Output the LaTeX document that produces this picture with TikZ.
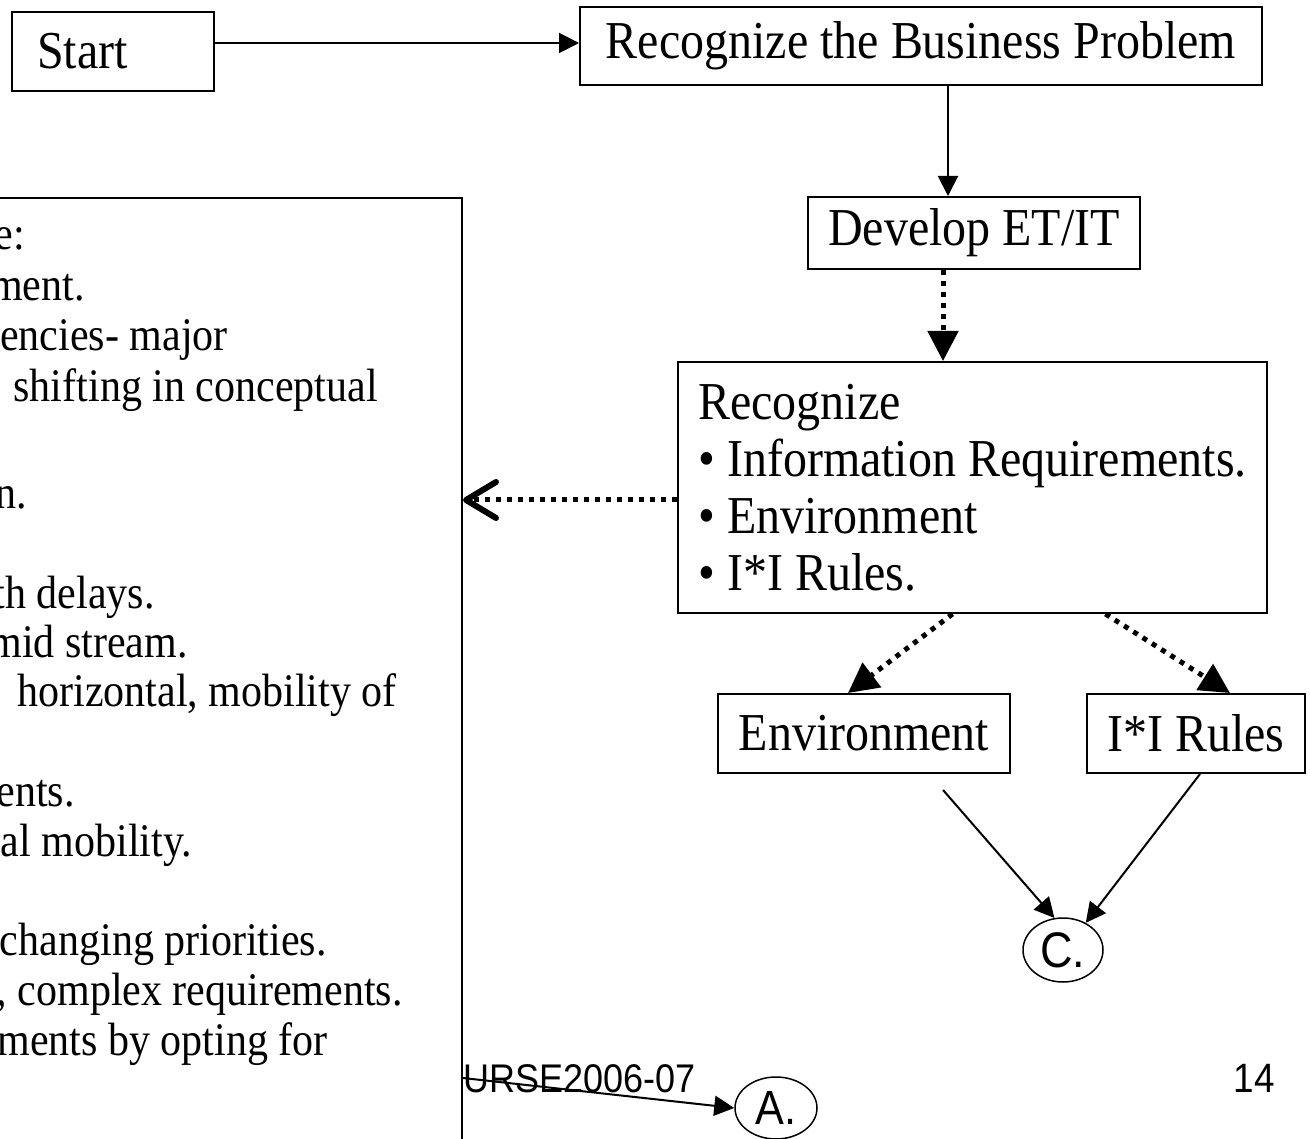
\documentclass[tikz,border=0pt]{standalone}
\usepackage{fontspec}
\setmainfont[FakeStretch=0.9]{Liberation Serif}
\newfontfamily\arialf[FakeStretch=0.9]{Liberation Sans}
\usetikzlibrary{arrows.meta,shapes.geometric,calc}
\begin{document}
\begin{tikzpicture}[x=1pt,y=-1pt,
 box/.style={draw, line width=2pt, inner sep=0pt, font=\fontsize{53.3}{57}\selectfont},
 solidarr/.style={line width=2pt, -{Triangle[length=20pt,width=20pt]}},
 dotarr/.style={line width=5pt, dash pattern=on 5pt off 6pt, -{Triangle[length=30pt,width=30pt]}},
 lefttxt/.style={anchor=base east, inner sep=0pt, font=\fontsize{46.7}{50}\selectfont},
 oval/.style={draw, ellipse, line width=1.5pt, inner sep=0pt, font=\arialf\fontsize{50}{54}\selectfont}]
\useasboundingbox (0,0) rectangle (1310,1139);
\clip (0,0) rectangle (1310,1139);
\fill[white] (0,0) rectangle (1310,1139);

% left (cut-off) box
\node[draw, line width=2pt, minimum width=600pt, minimum height=1100pt, anchor=north east, inner sep=0pt] (lbox) at (463,197) {};
\node[lefttxt] (l1) at (25,250) {e:};
\node[lefttxt] (l2) at (85,301) {ment.};
\node[lefttxt] (l3) at (228,351) {encies- major};
\node[lefttxt] (l4) at (378,402) {shifting in conceptual};
\node[lefttxt] (l5) at (27,508) {n.};
\node[lefttxt] (l6) at (155,608) {th delays.};
\node[lefttxt] (l7) at (188,657) {mid stream.};
\node[lefttxt] (l8) at (397,706) {horizontal, mobility of};
\node[lefttxt] (l9) at (75,806) {ents.};
\node[lefttxt] (l10) at (192,856) {al mobility.};
\node[lefttxt] (l11) at (327,955) {changing priorities.};
\node[lefttxt] (l12) at (403,1005) {, complex requirements.};
\node[lefttxt] (l13) at (328,1055) {ments by opting for};

% right flow
\node[box, minimum width=202pt, minimum height=79pt, text width=152pt, inner xsep=25pt, align=left] (start) at (113,51.5) {Start};
\node[box, minimum width=682pt, minimum height=78pt] (rbp) at (921,46) {Recognize the Business Problem};
\node[box, minimum width=332pt, minimum height=72pt] (dev) at (974,233) {Develop ET/IT};
\node[box, minimum width=589pt, minimum height=251pt, align=left] (rec) at (972.5,487.5)
 {Recognize\\ \textbullet\ Information Requirements.\\ \textbullet\ Environment\\ \textbullet\ I*I Rules.};
\node[box, minimum width=292pt, minimum height=79pt] (env) at (864,733.5) {Environment};
\node[box, minimum width=218pt, minimum height=79pt] (iri) at (1196,733.5) {I*I Rules};
\node[oval, minimum width=80pt, minimum height=64pt] (c) at (1063,950) {C.};
\node[oval, minimum width=82pt, minimum height=62pt, font=\arialf\fontsize{48}{52}\selectfont] (a) at (776,1108) {A.};

\node[anchor=base west, inner sep=0pt, font=\arialf\fontsize{40}{44}\selectfont] (urse) at (463,1092) {URSE2006-07};
\node[anchor=base east, inner sep=0pt, font=\arialf\fontsize{41}{44}\selectfont] (pg) at (1275,1092) {14};

% connectors
\path ([yshift=3pt]rbp.west) coordinate (rw);
\draw[solidarr] (rw -| start.east) -- (rw);
\coordinate (v1) at (948,0);
\draw[solidarr] (v1 |- rbp.south) -- (v1 |- dev.north);
\coordinate (v2) at (943,0);
\draw[dotarr] (v2 |- dev.south) -- (v2 |- rec.north);
\coordinate (h1) at (0,500);
\draw[line width=5pt, dash pattern=on 5pt off 6pt, -{Straight Barb[length=30pt,width=36pt,line width=6pt,round]}] (h1 -| rec.west) -- (h1 -| lbox.east);
\draw[dotarr] ([xshift=-20pt]rec.south) -- ([xshift=-16pt]env.north);
\draw[dotarr] ([xshift=133pt]rec.south) -- ([xshift=34pt]iri.north);
\coordinate (es) at (943,790);
\draw[solidarr] (es) -- (c.105);
\draw[solidarr] ([xshift=4pt]iri.south) -- (c.50);
\coordinate (as) at (463,1078);
\draw[solidarr] (as) -- (a.west);
\end{tikzpicture}
\end{document}
